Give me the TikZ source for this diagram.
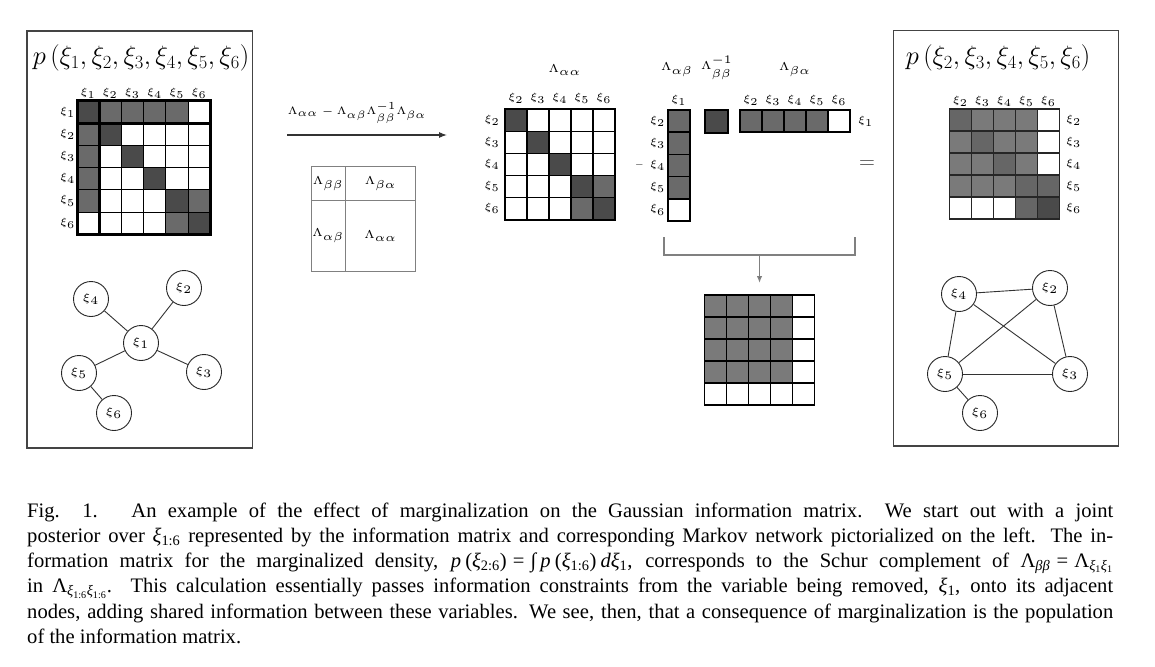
\RequirePackage{fix-cm}
\documentclass[tikz,border=0pt]{standalone}
\usepackage{graphicx}
\usepackage{fontspec}
\newfontfamily\capfont{Liberation Serif}
\usetikzlibrary{arrows.meta}
\definecolor{cD}{HTML}{4A4A4A}
\definecolor{cM}{HTML}{6A6A6A}
\definecolor{cW}{HTML}{FFFFFF}
\definecolor{cL}{HTML}{7A7A7A}
\definecolor{cR}{HTML}{666666}
\definecolor{boxgray}{HTML}{444444}
\definecolor{linegray}{HTML}{808080}
\newcommand\mgrid[5]{%
  \foreach \rw [count=\ri] in {#4} {
    \foreach \cl [count=\ci] in \rw {
      \draw[#5, fill=c\cl] ({#1+(\ci-1)*#3},{#2+(\ri-1)*#3}) rectangle ++(#3,#3);
    }
  }
}
\newcommand\mlab[1]{\scalebox{2.1}{\tiny$#1$}}
\newcommand\glab[1]{\scalebox{2.3}{\tiny$#1$}}
\newcommand\llab[1]{\scalebox{2.3}{\tiny$#1$}}
\newcommand\cxi[1]{\textit{ξ}\textsubscript{#1}}
\newcommand\ceq{\hspace{0.3em}=\hspace{0.3em}}
\tikzset{
  panel/.style={draw=boxgray, line width=1.4},
  lab/.style={inner sep=0},
  lam/.style={inner sep=0},
  title/.style={inner sep=0, font=\fontsize{26.5}{30}\selectfont},
  gn/.style={circle, draw=black!85, line width=0.9, minimum size=35, inner sep=0},
  ge/.style={draw=black!80, line width=0.9},
}
\begin{document}
\begin{tikzpicture}[x=1pt,y=-1pt]
\useasboundingbox (0,0) rectangle (1155,666);
\fill[white] (0,0) rectangle (1155,666);

% ---------- left panel ----------
\draw[panel] (27,31) rectangle (252.5,448);
\node[title] (ltitle) at (141,58) {$p\left(\xi_1,\xi_2,\xi_3,\xi_4,\xi_5,\xi_6\right)$};
\mgrid{77}{101}{22.2}{{D,M,M,M,M,W},{M,D,W,W,W,W},{M,W,D,W,W,W},{M,W,W,D,W,W},{M,W,W,W,D,M},{W,W,W,W,M,D}}{draw=black,line width=1}
\draw[line width=3] (77,101) rectangle (210.2,234.2);
\draw[line width=3] (99.2,101) -- (99.2,234.2);
\draw[line width=3] (77,123.2) -- (210.2,123.2);
\foreach \i in {1,...,6} {
  \node[lab] (lc\i) at ({88.1+(\i-1)*22.2},93) {\mlab{\xi_{\i}}};
  \node[lab,anchor=east] (lr\i) at (75.5,{112.1+(\i-1)*22.2}) {\mlab{\xi_{\i}}};
}
\node[gn] (a1) at (141,343) {\glab{\xi_1}};
\node[gn] (a2) at (184,288) {\glab{\xi_2}};
\node[gn] (a3) at (204,372) {\glab{\xi_3}};
\node[gn] (a4) at (91,299) {\glab{\xi_4}};
\node[gn] (a5) at (79,373) {\glab{\xi_5}};
\node[gn] (a6) at (114,413) {\glab{\xi_6}};
\draw[ge] (a1) -- (a2);
\draw[ge] (a1) -- (a3);
\draw[ge] (a1) -- (a4);
\draw[ge] (a1) -- (a5);
\draw[ge] (a5) -- (a6);

% ---------- schur arrow and block ----------
\node[lam] (schur) at (357,113) {\scalebox{2.15}{\tiny$\Lambda_{\alpha\alpha}-\Lambda_{\alpha\beta}\Lambda_{\beta\beta}^{-1}\Lambda_{\beta\alpha}$}};
\coordinate (arS) at (287,135);
\coordinate (arE) at (447,135);
\draw[draw=black!80, line width=1.1, -{Latex[length=8,width=6]}] (arS) -- (arE);
\draw[draw=linegray, line width=1] (311,166) rectangle (415.7,271);
\draw[draw=linegray, line width=1] (345.7,166) -- (345.7,271);
\draw[draw=linegray, line width=1] (311,200.7) -- (415.7,200.7);
\node[lam] (bbb) at (328.3,183.3) {\llab{\Lambda_{\beta\beta}}};
\node[lam] (bba) at (380.7,183.3) {\llab{\Lambda_{\beta\alpha}}};
\node[lam] (bab) at (328.3,236) {\llab{\Lambda_{\alpha\beta}}};
\node[lam] (baa) at (380.7,236) {\llab{\Lambda_{\alpha\alpha}}};

% ---------- Lambda_aa ----------
\node[lam] (laa) at (565,70) {\llab{\Lambda_{\alpha\alpha}}};
\mgrid{505}{109.5}{22}{{D,W,W,W,W},{W,D,W,W,W},{W,W,D,W,W},{W,W,W,D,M},{W,W,W,M,D}}{draw=black,line width=1.6}
\draw[line width=2] (505,109.5) rectangle (615,219.5);
\foreach \i [count=\k] in {2,...,6} {
  \node[lab] (mc\i) at ({516+(\k-1)*22},98.5) {\mlab{\xi_{\i}}};
  \node[lab,anchor=east] (mr\i) at (500,{120.5+(\k-1)*22}) {\mlab{\xi_{\i}}};
}
\node[inner sep=0, font=\fontsize{11}{13}\selectfont] (minus) at (639.5,165) {$-$};

% ---------- Lambda_ab ----------
\node[lam] (lab) at (677,70) {\llab{\Lambda_{\alpha\beta}}};
\mgrid{667.5}{110}{22.2}{{M},{M},{M},{M},{W}}{draw=black,line width=1.6}
\draw[line width=2] (667.5,110) rectangle (689.7,221);
\node[lab] (bc1) at (679,100.5) {\mlab{\xi_1}};
\foreach \i [count=\k] in {2,...,6} {
  \node[lab,anchor=east] (br\i) at (665.5,{121+(\k-1)*22.2}) {\mlab{\xi_{\i}}};
}
% ---------- Lambda_bb^-1 ----------
\node[lam] (lbbi) at (717,68) {\llab{\Lambda_{\beta\beta}^{-1}}};
\mgrid{705}{110}{22.5}{{D}}{draw=black,line width=2}
% ---------- Lambda_ba ----------
\node[lam] (lba) at (795,70) {\llab{\Lambda_{\beta\alpha}}};
\mgrid{740}{110}{22}{{M,M,M,M,W}}{draw=black,line width=1.6}
\draw[line width=2] (740,110) rectangle (850,132);
\foreach \i [count=\k] in {2,...,6} {
  \node[lab] (cc\i) at ({751+(\k-1)*22},100.5) {\mlab{\xi_{\i}}};
}
\node[lab,anchor=west] (cr1) at (858,121) {\mlab{\xi_1}};
\node[inner sep=0, font=\fontsize{22}{24}\selectfont, text=black!75] (equals) at (867,165) {$=$};

% ---------- bracket and result ----------
\coordinate (brL) at (663.5,237);
\coordinate (brR) at (855,237);
\coordinate (brM) at (759.5,255);
\coordinate (brT) at (759.5,283);
\draw[draw=linegray, line width=2] (brL) |- (brM) -| (brR);
\draw[draw=linegray, line width=1.3, -{Latex[length=7,width=5.5,fill=black!80]}] (brM) -- (brT);
\mgrid{704.5}{295}{22}{{L,L,L,L,W},{L,L,L,L,W},{L,L,L,L,W},{L,L,L,L,W},{W,W,W,W,W}}{draw=black,line width=1.5}
\draw[line width=1.8] (704.5,295) rectangle (814.5,405);

% ---------- right panel ----------
\draw[panel] (893.5,30.5) rectangle (1118.5,446);
\node[title] (rtitle) at (998,58) {$p\left(\xi_2,\xi_3,\xi_4,\xi_5,\xi_6\right)$};
\mgrid{949.5}{109}{22}{{R,L,L,L,W},{L,R,L,L,W},{L,L,R,L,W},{L,L,L,R,R},{W,W,W,R,D}}{draw=black!85,line width=1.1}
\draw[draw=black!85, line width=1.5] (949.5,109) rectangle (1059.5,219);
\foreach \i [count=\k] in {2,...,6} {
  \node[lab] (rc\i) at ({960.5+(\k-1)*22},101) {\mlab{\xi_{\i}}};
  \node[lab,anchor=west] (rr\i) at (1066,{120+(\k-1)*22}) {\mlab{\xi_{\i}}};
}
\node[gn] (b2) at (1050,288) {\glab{\xi_2}};
\node[gn] (b3) at (1070,374) {\glab{\xi_3}};
\node[gn] (b4) at (959,294) {\glab{\xi_4}};
\node[gn] (b5) at (945,374) {\glab{\xi_5}};
\node[gn] (b6) at (980,413) {\glab{\xi_6}};
\draw[ge] (b4) -- (b2);
\draw[ge] (b4) -- (b5);
\draw[ge] (b4) -- (b3);
\draw[ge] (b2) -- (b5);
\draw[ge] (b2) -- (b3);
\draw[ge] (b5) -- (b3);
\draw[ge] (b5) -- (b6);

% ---------- caption ----------
\node[anchor=north west, inner sep=0, text width=1086, align=justify,
      font=\capfont\fontsize{20.6}{25.2}\selectfont] (caption) at (27,502.5) {%
Fig.\ \ 1.\ \ \ An example of the effect of marginalization on the Gaussian information matrix.\ \ We start out with a joint\linebreak
posterior over \cxi{1:6} represented by the information matrix and corresponding Markov network pictorialized on the left. The in-\linebreak
formation matrix for the marginalized density, \textit{p}\hspace{0.2em}(\cxi{2:6})\ceq∫\hspace{0.2em}\textit{p}\hspace{0.2em}(\cxi{1:6})\hspace{0.2em}\textit{d}\cxi{1}, corresponds to the Schur complement of Λ\textsubscript{\textit{ββ}}\ceq Λ\textsubscript{\textit{ξ}\textsubscript{1}\textit{ξ}\textsubscript{1}}\linebreak
in Λ\textsubscript{\textit{ξ}\textsubscript{1:6}\textit{ξ}\textsubscript{1:6}}. This calculation essentially passes information constraints from the variable being removed, \cxi{1}, onto its adjacent\linebreak
nodes, adding shared information between these variables. We see, then, that a consequence of marginalization is the population\linebreak
of the information matrix.};
\end{tikzpicture}
\end{document}
